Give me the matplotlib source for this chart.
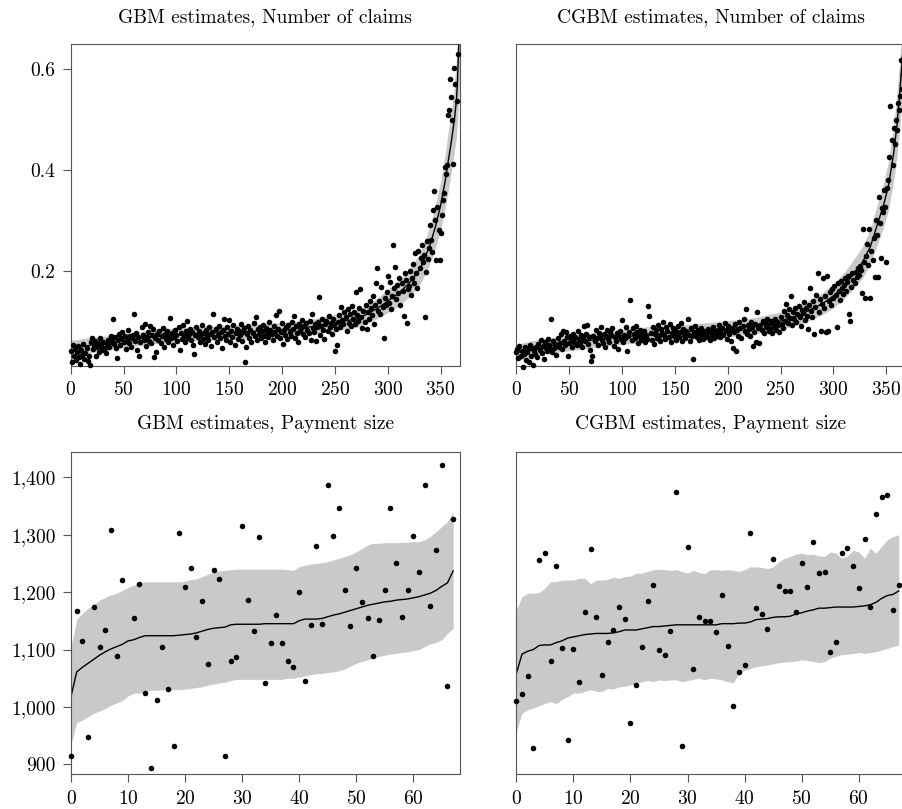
import numpy as np
import matplotlib
matplotlib.use("Agg")
import matplotlib.pyplot as plt
from matplotlib.ticker import FuncFormatter

plt.rcParams['font.family'] = ['cmr10', 'DejaVu Serif']
plt.rcParams['axes.formatter.use_mathtext'] = True
plt.rcParams['font.size'] = 14

# ---- Number of claims, daily estimates (day index 0..366) ----
gbm_claims = [
    0.040, 0.018, 0.052, 0.030, 0.045, 0.022, 0.038, 0.050, 0.028, 0.015, 0.042, 0.033, 0.055, 0.024, 0.036, 0.047, 0.020, 0.031, 0.012, 0.058,
    0.066, 0.044, 0.052, 0.061, 0.030, 0.048, 0.057, 0.039, 0.066, 0.050, 0.043, 0.059, 0.047, 0.036, 0.054, 0.062, 0.049, 0.058, 0.071, 0.060,
    0.104, 0.055, 0.068, 0.047, 0.026, 0.062, 0.075, 0.052, 0.066, 0.079, 0.058, 0.070, 0.044, 0.063, 0.082, 0.057, 0.071, 0.049, 0.066, 0.073,
    0.114, 0.060, 0.077, 0.042, 0.068, 0.031, 0.058, 0.089, 0.072, 0.063, 0.094, 0.051, 0.069, 0.079, 0.060, 0.090, 0.056, 0.073, 0.084, 0.028,
    0.066, 0.039, 0.075, 0.062, 0.081, 0.057, 0.070, 0.086, 0.049, 0.074, 0.064, 0.080, 0.058, 0.071, 0.106, 0.067, 0.077, 0.053, 0.069, 0.083,
    0.072, 0.060, 0.088, 0.043, 0.076, 0.065, 0.093, 0.070, 0.058, 0.081, 0.100, 0.067, 0.075, 0.085, 0.062, 0.078, 0.052, 0.035, 0.073, 0.088,
    0.069, 0.081, 0.058, 0.074, 0.092, 0.065, 0.077, 0.054, 0.083, 0.070, 0.062, 0.088, 0.075, 0.050, 0.079, 0.115, 0.068, 0.084, 0.059, 0.073,
    0.090, 0.066, 0.079, 0.047, 0.083, 0.105, 0.071, 0.062, 0.088, 0.074, 0.102, 0.058, 0.080, 0.069, 0.092, 0.052, 0.077, 0.085, 0.064, 0.081,
    0.072, 0.094, 0.060, 0.078, 0.086, 0.019, 0.048, 0.075, 0.090, 0.067, 0.082, 0.058, 0.076, 0.097, 0.070, 0.108, 0.063, 0.085, 0.074, 0.089,
    0.066, 0.080, 0.093, 0.071, 0.059, 0.087, 0.076, 0.068, 0.098, 0.082, 0.074, 0.063, 0.090, 0.079, 0.112, 0.070, 0.085, 0.120, 0.066, 0.078,
    0.096, 0.055, 0.083, 0.072, 0.088, 0.064, 0.092, 0.079, 0.070, 0.099, 0.084, 0.111, 0.067, 0.090, 0.076, 0.058, 0.094, 0.081, 0.087, 0.103,
    0.074, 0.090, 0.068, 0.096, 0.083, 0.077, 0.101, 0.063, 0.115, 0.086, 0.079, 0.094, 0.060, 0.088, 0.098, 0.148, 0.072, 0.090, 0.105, 0.083,
    0.065, 0.094, 0.100, 0.081, 0.110, 0.089, 0.097, 0.075, 0.104, 0.092, 0.041, 0.085, 0.052, 0.099, 0.112, 0.088, 0.128, 0.102, 0.094, 0.118,
    0.108, 0.081, 0.124, 0.097, 0.115, 0.090, 0.130, 0.104, 0.119, 0.095, 0.158, 0.112, 0.100, 0.127, 0.164, 0.109, 0.086, 0.121, 0.098, 0.133,
    0.084, 0.118, 0.105, 0.140, 0.126, 0.112, 0.150, 0.095, 0.133, 0.175, 0.206, 0.121, 0.139, 0.114, 0.168, 0.128, 0.066, 0.145, 0.132, 0.158,
    0.190, 0.137, 0.178, 0.124, 0.149, 0.252, 0.166, 0.208, 0.143, 0.171, 0.155, 0.186, 0.132, 0.175, 0.160, 0.110, 0.196, 0.181, 0.097, 0.163,
    0.170, 0.200, 0.152, 0.186, 0.214, 0.176, 0.235, 0.196, 0.165, 0.240, 0.205, 0.225, 0.252, 0.218, 0.232, 0.108, 0.198, 0.260, 0.224, 0.245,
    0.290, 0.262, 0.238, 0.320, 0.358, 0.300, 0.222, 0.326, 0.280, 0.222, 0.275, 0.310, 0.340, 0.355, 0.405, 0.392, 0.410, 0.510, 0.520, 0.580,
    0.545, 0.500, 0.412, 0.602, 0.570, 0.536, 0.630,
]

cgbm_claims = [
    0.038, 0.045, 0.026, 0.050, 0.030, 0.041, 0.010, 0.035, 0.048, 0.022, 0.039, 0.044, 0.018, 0.053, 0.031, 0.046, 0.012, 0.040, 0.034, 0.049,
    0.028, 0.055, 0.043, 0.062, 0.037, 0.050, 0.025, 0.058, 0.046, 0.040, 0.064, 0.052, 0.044, 0.105, 0.038, 0.060, 0.047, 0.055, 0.032, 0.066,
    0.049, 0.057, 0.074, 0.044, 0.080, 0.061, 0.052, 0.078, 0.068, 0.030, 0.056, 0.071, 0.063, 0.048, 0.075, 0.059, 0.068, 0.053, 0.080, 0.064,
    0.057, 0.072, 0.049, 0.066, 0.090, 0.061, 0.074, 0.092, 0.055, 0.068, 0.042, 0.020, 0.030, 0.071, 0.060, 0.083, 0.066, 0.053, 0.077, 0.069,
    0.088, 0.062, 0.056, 0.075, 0.048, 0.070, 0.083, 0.064, 0.058, 0.079, 0.072, 0.087, 0.051, 0.068, 0.060, 0.076, 0.045, 0.070, 0.081, 0.065,
    0.103, 0.058, 0.073, 0.066, 0.089, 0.040, 0.071, 0.078, 0.141, 0.062, 0.086, 0.074, 0.067, 0.091, 0.079, 0.056, 0.070, 0.083, 0.063, 0.075,
    0.068, 0.081, 0.059, 0.072, 0.065, 0.130, 0.110, 0.076, 0.062, 0.088, 0.055, 0.074, 0.082, 0.066, 0.093, 0.071, 0.060, 0.085, 0.077, 0.098,
    0.073, 0.064, 0.089, 0.080, 0.068, 0.094, 0.059, 0.077, 0.086, 0.071, 0.082, 0.063, 0.076, 0.090, 0.069, 0.078, 0.097, 0.061, 0.084, 0.072,
    0.066, 0.080, 0.104, 0.073, 0.061, 0.087, 0.070, 0.024, 0.079, 0.091, 0.075, 0.068, 0.083, 0.062, 0.077, 0.086, 0.071, 0.064, 0.080, 0.074,
    0.069, 0.085, 0.078, 0.063, 0.082, 0.072, 0.088, 0.066, 0.079, 0.075, 0.070, 0.083, 0.092, 0.068, 0.077, 0.086, 0.073, 0.096, 0.080, 0.065,
    0.090, 0.074, 0.082, 0.060, 0.087, 0.046, 0.078, 0.094, 0.040, 0.083, 0.071, 0.099, 0.086, 0.066, 0.090, 0.105, 0.080, 0.125, 0.075, 0.093,
    0.084, 0.070, 0.098, 0.088, 0.050, 0.079, 0.095, 0.058, 0.118, 0.087, 0.056, 0.092, 0.083, 0.101, 0.076, 0.097, 0.089, 0.104, 0.093, 0.081,
    0.085, 0.100, 0.076, 0.095, 0.089, 0.104, 0.082, 0.098, 0.092, 0.079, 0.108, 0.095, 0.086, 0.121, 0.101, 0.135, 0.112, 0.097, 0.125, 0.106,
    0.150, 0.093, 0.118, 0.104, 0.127, 0.099, 0.114, 0.131, 0.109, 0.090, 0.122, 0.116, 0.138, 0.102, 0.126, 0.111, 0.085, 0.133, 0.165, 0.120,
    0.108, 0.140, 0.075, 0.129, 0.152, 0.196, 0.118, 0.144, 0.080, 0.135, 0.185, 0.127, 0.149, 0.079, 0.190, 0.081, 0.140, 0.157, 0.132, 0.163,
    0.145, 0.170, 0.151, 0.088, 0.176, 0.159, 0.142, 0.180, 0.165, 0.153, 0.172, 0.185, 0.160, 0.178, 0.190, 0.115, 0.100, 0.168, 0.195, 0.182,
    0.176, 0.198, 0.187, 0.205, 0.192, 0.210, 0.202, 0.155, 0.282, 0.218, 0.145, 0.230, 0.253, 0.212, 0.282, 0.145, 0.240, 0.222, 0.265, 0.188,
    0.300, 0.270, 0.188, 0.347, 0.295, 0.225, 0.324, 0.316, 0.360, 0.326, 0.218, 0.364, 0.380, 0.426, 0.526, 0.460, 0.410, 0.483, 0.452, 0.500,
    0.480, 0.532, 0.520, 0.546, 0.618, 0.560, 0.590,
]

# fitted curve and 95% band, read at selected days
gbm_claims_x = [0, 5, 10, 20, 40, 60, 80, 100, 125, 150, 175, 200, 225, 250, 272, 290, 300, 310, 320, 330,
                335, 340, 345, 350, 354, 357, 360, 363, 365, 366, 367, 368]
gbm_claims_mean = [0.042, 0.046, 0.049, 0.053, 0.058, 0.064, 0.069, 0.073, 0.076, 0.078, 0.080, 0.082, 0.088, 0.097,
                   0.105, 0.125, 0.140, 0.155, 0.175, 0.202, 0.225, 0.252, 0.287, 0.330, 0.375, 0.415, 0.455, 0.500,
                   0.540, 0.580, 0.640, 0.720]
gbm_claims_lo = [0.022, 0.029, 0.033, 0.038, 0.044, 0.050, 0.055, 0.059, 0.062, 0.064, 0.066, 0.068, 0.073, 0.081,
                 0.088, 0.105, 0.117, 0.130, 0.148, 0.172, 0.192, 0.215, 0.245, 0.282, 0.322, 0.357, 0.396, 0.437,
                 0.467, 0.497, 0.537, 0.577]
gbm_claims_hi = [0.063, 0.063, 0.065, 0.068, 0.072, 0.078, 0.083, 0.087, 0.090, 0.092, 0.094, 0.097, 0.103, 0.113,
                 0.123, 0.145, 0.163, 0.180, 0.202, 0.233, 0.259, 0.290, 0.330, 0.378, 0.428, 0.473, 0.518, 0.568,
                 0.623, 0.673, 0.753, 0.853]

cgbm_claims_x = [0, 10, 25, 50, 75, 100, 125, 150, 175, 200, 225, 250, 270, 290, 300, 310, 316, 327, 335, 341,
                 347, 352, 357, 360, 363, 365.6, 367, 368]
cgbm_claims_mean = [0.037, 0.043, 0.050, 0.056, 0.063, 0.069, 0.073, 0.077, 0.081, 0.085, 0.091, 0.100, 0.114, 0.135,
                    0.150, 0.170, 0.185, 0.215, 0.248, 0.288, 0.327, 0.367, 0.433, 0.486, 0.559, 0.632, 0.690, 0.740]
cgbm_claims_lo = [0.021, 0.028, 0.035, 0.041, 0.048, 0.054, 0.058, 0.062, 0.065, 0.069, 0.075, 0.083, 0.095, 0.113,
                  0.126, 0.144, 0.157, 0.184, 0.214, 0.249, 0.284, 0.319, 0.379, 0.424, 0.489, 0.554, 0.599, 0.639]
cgbm_claims_hi = [0.053, 0.059, 0.065, 0.072, 0.078, 0.084, 0.089, 0.092, 0.096, 0.101, 0.107, 0.118, 0.133, 0.157,
                  0.174, 0.196, 0.213, 0.246, 0.283, 0.328, 0.371, 0.416, 0.488, 0.546, 0.626, 0.711, 0.781, 0.841]

# ---- Payment size, estimates per period (0..67) ----
nan = np.nan
gbm_pay = [914.5, 1167.1, 1115.5, 947.0, 1173.5, 1103.8, 1134.6, 1308.8, 1088.1, 1221.1,
           nan, 1154.9, 1214.7, 1023.7, 893.6, 1012.1, 1105.0, 1030.7, 932.5, 1302.4,
           1208.4, 1242.0, 1122.4, 1184.0, 1075.4, 1238.0, 1223.5, 915.1, 1080.0, 1087.0,
           1314.6, 1185.7, 1131.7, 1296.6, 1041.1, 1111.4, 1160.7, 1110.8, 1080.0, 1070.2,
           1200.8, 1044.6, 1142.2, 1279.8, 1144.5, 1386.6, 1297.2, 1347.2, 1203.1, 1140.4,
           1242.0, 1183.4, 1155.5, 1088.7, 1151.5, 1204.3, 1347.2, 1251.3, 1156.1, 1204.3,
           1298.4, 1234.5, 1386.6, 1175.3, 1272.8, 1422.1, 1037.0, 1326.8]
gbm_pay_mean = [1018, 1061, 1069, 1076, 1083, 1090, 1096, 1101, 1105, 1109,
                1115, 1117, 1121, 1124, 1124, 1124, 1124, 1124, 1124, 1125,
                1126, 1127, 1129, 1132, 1135, 1137, 1138, 1139, 1143, 1144,
                1144, 1144, 1144, 1144, 1145, 1145, 1145, 1145, 1145, 1145,
                1150, 1153, 1153, 1153, 1154, 1157, 1160, 1162, 1165, 1168,
                1171, 1174, 1177, 1179, 1181, 1183, 1184, 1186, 1187, 1188,
                1190, 1192, 1195, 1198, 1203, 1210, 1216, 1237]
gbm_pay_lo = [934, 973, 977, 983, 989, 993, 997, 1003, 1007, 1011,
              1019, 1024, 1024, 1027, 1029, 1029, 1030, 1030, 1030, 1030,
              1031, 1032, 1034, 1035, 1038, 1040, 1042, 1043, 1046, 1048,
              1048, 1048, 1048, 1048, 1048, 1048, 1048, 1048, 1050, 1050,
              1052, 1054, 1056, 1058, 1058, 1060, 1061, 1063, 1066, 1071,
              1076, 1079, 1082, 1085, 1088, 1090, 1092, 1093, 1095, 1096,
              1098, 1100, 1105, 1110, 1112, 1117, 1128, 1137]
gbm_pay_hi = [1105, 1152, 1163, 1172, 1178, 1186, 1191, 1195, 1198, 1203,
              1208, 1212, 1216, 1218, 1218, 1218, 1218, 1218, 1218, 1218,
              1219, 1222, 1223, 1227, 1231, 1235, 1237, 1238, 1239, 1240,
              1240, 1240, 1240, 1240, 1240, 1240, 1240, 1240, 1239, 1238,
              1244, 1247, 1249, 1250, 1251, 1253, 1256, 1259, 1262, 1265,
              1270, 1276, 1282, 1285, 1285, 1286, 1286, 1286, 1287, 1287,
              1288, 1288, 1291, 1297, 1305, 1314, 1323, 1340]

cgbm_pay = [1009.8, 1022.5, 1053.9, 928.5, 1256.6, 1267.6, 1080.6, 1245.5, 1102.7, 941.8,
            1100.4, 1043.4, 1165.4, 1275.1, 1156.1, 1056.2, 1113.1, 1134.0, 1173.5, 1153.2,
            971.4, 1037.6, 1104.4, 1184.0, 1213.0, 1098.6, 1091.1, 1131.7, 1375.0, 931.4,
            1278.6, 1066.1, 1157.3, 1150.3, 1149.7, 1131.1, 1194.4, 1105.6, 1001.6, 1060.3,
            1073.1, 1303.6, 1172.9, 1161.9, 1135.2, 1257.1, 1210.7, 1202.6, 1201.4, 1165.4,
            1250.8, 1209.5, 1287.9, 1233.3, 1235.1, 1095.7, 1113.1, 1268.2, 1277.5, 1245.5,
            1207.2, 1293.1, 1174.1, 1336.1, 1365.2, 1369.2, 1169.4, 1213.0]
cgbm_pay_mean = [1058, 1092, 1097, 1100, 1107, 1108, 1108, 1112, 1115, 1120,
                 1122, 1124, 1126, 1127, 1128, 1128, 1128, 1129, 1131, 1134,
                 1134, 1134, 1136, 1138, 1140, 1140, 1141, 1142, 1143, 1143,
                 1143, 1143, 1143, 1143, 1143, 1143, 1145, 1145, 1145, 1146,
                 1146, 1148, 1152, 1153, 1154, 1156, 1157, 1157, 1158, 1162,
                 1164, 1167, 1169, 1172, 1172, 1173, 1174, 1174, 1174, 1174,
                 1175, 1176, 1178, 1182, 1189, 1194, 1196, 1202]
cgbm_pay_lo = [957, 989, 995, 998, 1002, 1006, 1009, 1006, 1013, 1018,
               1024, 1024, 1027, 1030, 1027, 1027, 1032, 1031, 1035, 1036,
               1038, 1041, 1044, 1046, 1044, 1047, 1046, 1047, 1047, 1044,
               1046, 1048, 1050, 1047, 1050, 1049, 1047, 1044, 1042, 1058,
               1064, 1067, 1070, 1072, 1073, 1075, 1077, 1078, 1079, 1080,
               1082, 1081, 1079, 1077, 1079, 1085, 1088, 1091, 1092, 1093,
               1095, 1093, 1095, 1096, 1099, 1102, 1105, 1108]
cgbm_pay_hi = [1169, 1192, 1198, 1198, 1199, 1207, 1218, 1218, 1221, 1221,
               1221, 1224, 1224, 1215, 1221, 1221, 1222, 1226, 1224, 1227,
               1228, 1233, 1233, 1236, 1239, 1240, 1239, 1238, 1239, 1236,
               1233, 1238, 1234, 1232, 1239, 1239, 1238, 1239, 1238, 1236,
               1239, 1244, 1244, 1243, 1241, 1244, 1253, 1259, 1262, 1266,
               1268, 1265, 1266, 1263, 1262, 1270, 1268, 1259, 1263, 1273,
               1270, 1259, 1276, 1268, 1280, 1291, 1297, 1300]

GRAY = '#c9c9c9'
AXCOL = '#555555'
W, H = 903, 809


def make_axes(fig, left, right, top, bottom):
    return fig.add_axes([left / W, 1 - bottom / H, (right - left) / W, (bottom - top) / H])


def style_axes(ax, show_y):
    for s in ax.spines.values():
        s.set_linewidth(0.8)
        s.set_color(AXCOL)
    ax.tick_params(direction='out', length=5.5, width=0.8, color=AXCOL, pad=5.5, labelsize=14)
    if not show_y:
        ax.set_yticks([])


def draw_claims(ax, y, lx, mean, lo, hi, title, show_y):
    ax.fill_between(lx, lo, hi, color=GRAY, linewidth=0, zorder=1)
    ax.plot(lx, mean, color='black', linewidth=1.0, zorder=2)
    ax.scatter(np.arange(len(y)), y, s=16, color='black', linewidths=0, zorder=3, clip_on=False)
    ax.set_xlim(0, 368.3)
    ax.set_ylim(0.011, 0.65)
    ax.set_xticks([0, 50, 100, 150, 200, 250, 300, 350])
    ax.set_yticks([0.2, 0.4, 0.6])
    ax.yaxis.set_major_formatter(FuncFormatter(lambda v, p: f"{v:.1f}"))
    ax.set_title(title, fontsize=14, pad=16)
    style_axes(ax, show_y)


def draw_pay(ax, y, mean, lo, hi, title, show_y):
    x = np.arange(len(y))
    ax.fill_between(x, lo, hi, color=GRAY, linewidth=0, zorder=1)
    ax.plot(x, mean, color='black', linewidth=1.0, zorder=2)
    ax.scatter(x, y, s=16, color='black', linewidths=0, zorder=3, clip_on=False)
    ax.set_xlim(0, 68.2)
    ax.set_ylim(882.6, 1444.6)
    ax.set_xticks([0, 10, 20, 30, 40, 50, 60])
    ax.set_yticks([900, 1000, 1100, 1200, 1300, 1400])
    ax.yaxis.set_major_formatter(FuncFormatter(lambda v, p: f"{v:,.0f}"))
    ax.set_title(title, fontsize=14, pad=16)
    style_axes(ax, show_y)


fig = plt.figure(figsize=(W / 100, H / 100), dpi=100)
ax1 = make_axes(fig, 70.7, 460, 44, 366)
ax2 = make_axes(fig, 516.3, 905.6, 44, 366)
ax3 = make_axes(fig, 71, 460, 451.7, 774.3)
ax4 = make_axes(fig, 516.3, 905.6, 451.7, 774.3)

draw_claims(ax1, gbm_claims, gbm_claims_x, gbm_claims_mean, gbm_claims_lo, gbm_claims_hi,
            'GBM estimates, Number of claims', True)
draw_claims(ax2, cgbm_claims, cgbm_claims_x, cgbm_claims_mean, cgbm_claims_lo, cgbm_claims_hi,
            'CGBM estimates, Number of claims', False)
draw_pay(ax3, gbm_pay, gbm_pay_mean, gbm_pay_lo, gbm_pay_hi, 'GBM estimates, Payment size', True)
draw_pay(ax4, cgbm_pay, cgbm_pay_mean, cgbm_pay_lo, cgbm_pay_hi, 'CGBM estimates, Payment size', False)

fig.savefig('out.png', dpi=100)
